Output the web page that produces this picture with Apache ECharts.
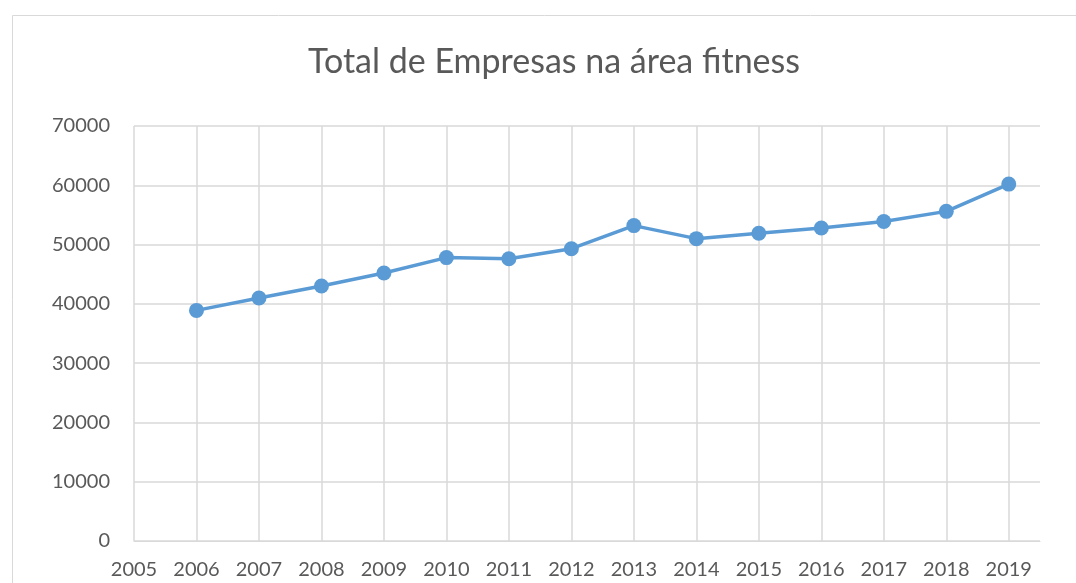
<!DOCTYPE html>
<html><head><meta charset="utf-8">
<script src="https://cdn.jsdelivr.net/npm/echarts@6/dist/echarts.min.js"></script>
<style>html,body{margin:0;padding:0;background:#fff}#c{width:1076px;height:583px}</style>
</head><body><div id="c"></div>
<script>
const title = 'Total de Empresas na área fitness';
const years = [2006, 2007, 2008, 2009, 2010, 2011, 2012, 2013, 2014, 2015, 2016, 2017, 2018, 2019];
const empresas = [38900, 41000, 43000, 45200, 47800, 47600, 49300, 53200, 51000, 51900, 52800, 53900, 55600, 60200];
const yTicks = [0, 10000, 20000, 30000, 40000, 50000, 60000, 70000];

const FONT = 'Lato, "Open Sans", sans-serif';
const chart = echarts.init(document.getElementById('c'));
chart.setOption({
  animation: false,
  backgroundColor: '#fff',
  graphic: [{
    type: 'rect', left: 10, top: 13, shape: { width: 1064, height: 580 },
    style: { fill: 'none', stroke: '#d9d9d9', lineWidth: 1 }, silent: true
  }],
  title: {
    text: title, left: 549, textAlign: 'center', top: 40,
    textStyle: { fontFamily: FONT, fontSize: 34, fontWeight: 'normal', color: '#595959' }
  },
  grid: { left: 134, right: 36, top: 126, bottom: 42, containLabel: false },
  xAxis: {
    type: 'value', min: 2005, max: 2019.5, interval: 1,
    axisLine: { show: true, lineStyle: { color: '#d9d9d9' } },
    axisTick: { show: false },
    axisLabel: {
      fontFamily: FONT, fontSize: 20, color: '#595959', margin: 19,
      showMaxLabel: false,
      formatter: v => Number.isInteger(v) ? String(v) : ''
    },
    splitLine: { show: true, showMaxLine: false, lineStyle: { color: '#d9d9d9', width: 1.5 } }
  },
  yAxis: {
    type: 'value', min: yTicks[0], max: yTicks[yTicks.length - 1], interval: 10000,
    axisLine: { show: false }, axisTick: { show: false },
    axisLabel: { fontFamily: FONT, fontSize: 20, color: '#595959', margin: 24, formatter: v => String(v) },
    splitLine: { show: true, lineStyle: { color: '#d9d9d9', width: 1.5 } }
  },
  series: [{
    type: 'line',
    data: years.map((y, i) => [y, empresas[i]]),
    lineStyle: { color: '#5B9BD5', width: 3.5 },
    itemStyle: { color: '#5B9BD5' },
    symbol: 'circle', symbolSize: 15
  }]
});
</script></body></html>
